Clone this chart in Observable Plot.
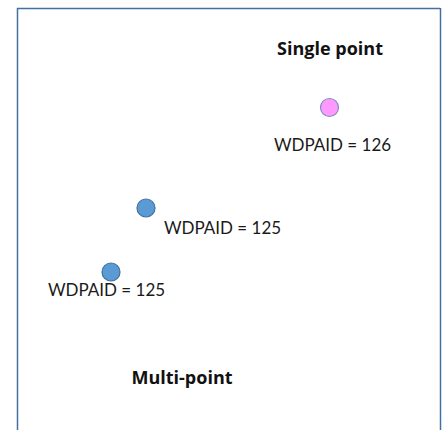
<!DOCTYPE html>
<html>
<head>
<meta charset="utf-8">
<script src="https://cdn.jsdelivr.net/npm/d3@7"></script>
<script src="https://cdn.jsdelivr.net/npm/@observablehq/plot@0.6"></script>
<style>
  html, body { margin: 0; padding: 0; background: #fff; }
  #chart svg { display: block; }
</style>
</head>
<body>
<div id="chart"></div>
<script>
// Points (diagram units: x to the right, y downward)
const pointX = [329, 145.5, 110.5];
const pointY = [107, 207.5, 271.5];
const pointGroup = ["single", "multi", "multi"];

// Point labels
const labelText = ["WDPAID = 126", "WDPAID = 125", "WDPAID = 125"];
const labelX = [332, 222, 106];
const labelY = [145, 228.5, 290];

// Group headings
const headingText = ["Single point", "Multi-point"];
const headingX = [329.5, 181.5];
const headingY = [49, 378];

// Frame extents
const frameLeft = 17, frameRight = 440, frameTop = 8, frameBottom = 430;

const points = pointX.map((x, i) => ({x, y: pointY[i], group: pointGroup[i]}));
const labels = labelText.map((t, i) => ({t, x: labelX[i], y: labelY[i]}));
const headings = headingText.map((t, i) => ({t, x: headingX[i], y: headingY[i]}));

const labelFont = "Lato, 'Open Sans', sans-serif";
const headingFont = "'Open Sans', Lato, sans-serif";

const chart = Plot.plot({
  width: 444,
  height: 430,
  margin: 0,
  x: {domain: [0, 444], range: [0, 444], axis: null},
  y: {domain: [0, 430], range: [0, 430], axis: null},
  color: {domain: ["single", "multi"], range: ["#ff99ff", "#5b9bd5"]},
  style: {fontFamily: labelFont, background: "#fff"},
  marks: [
    Plot.ruleX([frameLeft, frameRight], {y1: frameTop, y2: frameBottom, stroke: "#41719c", strokeWidth: 1.5}),
    Plot.ruleY([frameTop], {x1: frameLeft, x2: frameRight, stroke: "#41719c", strokeWidth: 1.5}),
    Plot.dot(points, {
      x: "x", y: "y", r: 9, fill: "group",
      stroke: d => d.group === "single" ? "#7f8fc0" : "#41719c",
      strokeWidth: 1.2
    }),
    Plot.text(labels, {x: "x", y: "y", text: "t", fontSize: 17, fill: "#1a1a1a", fontFamily: labelFont}),
    Plot.text(headings, {x: "x", y: "y", text: "t", fontSize: 18, fontWeight: "bold", fill: "#111", fontFamily: headingFont})
  ]
});
document.getElementById("chart").appendChild(chart);
</script>
</body>
</html>
